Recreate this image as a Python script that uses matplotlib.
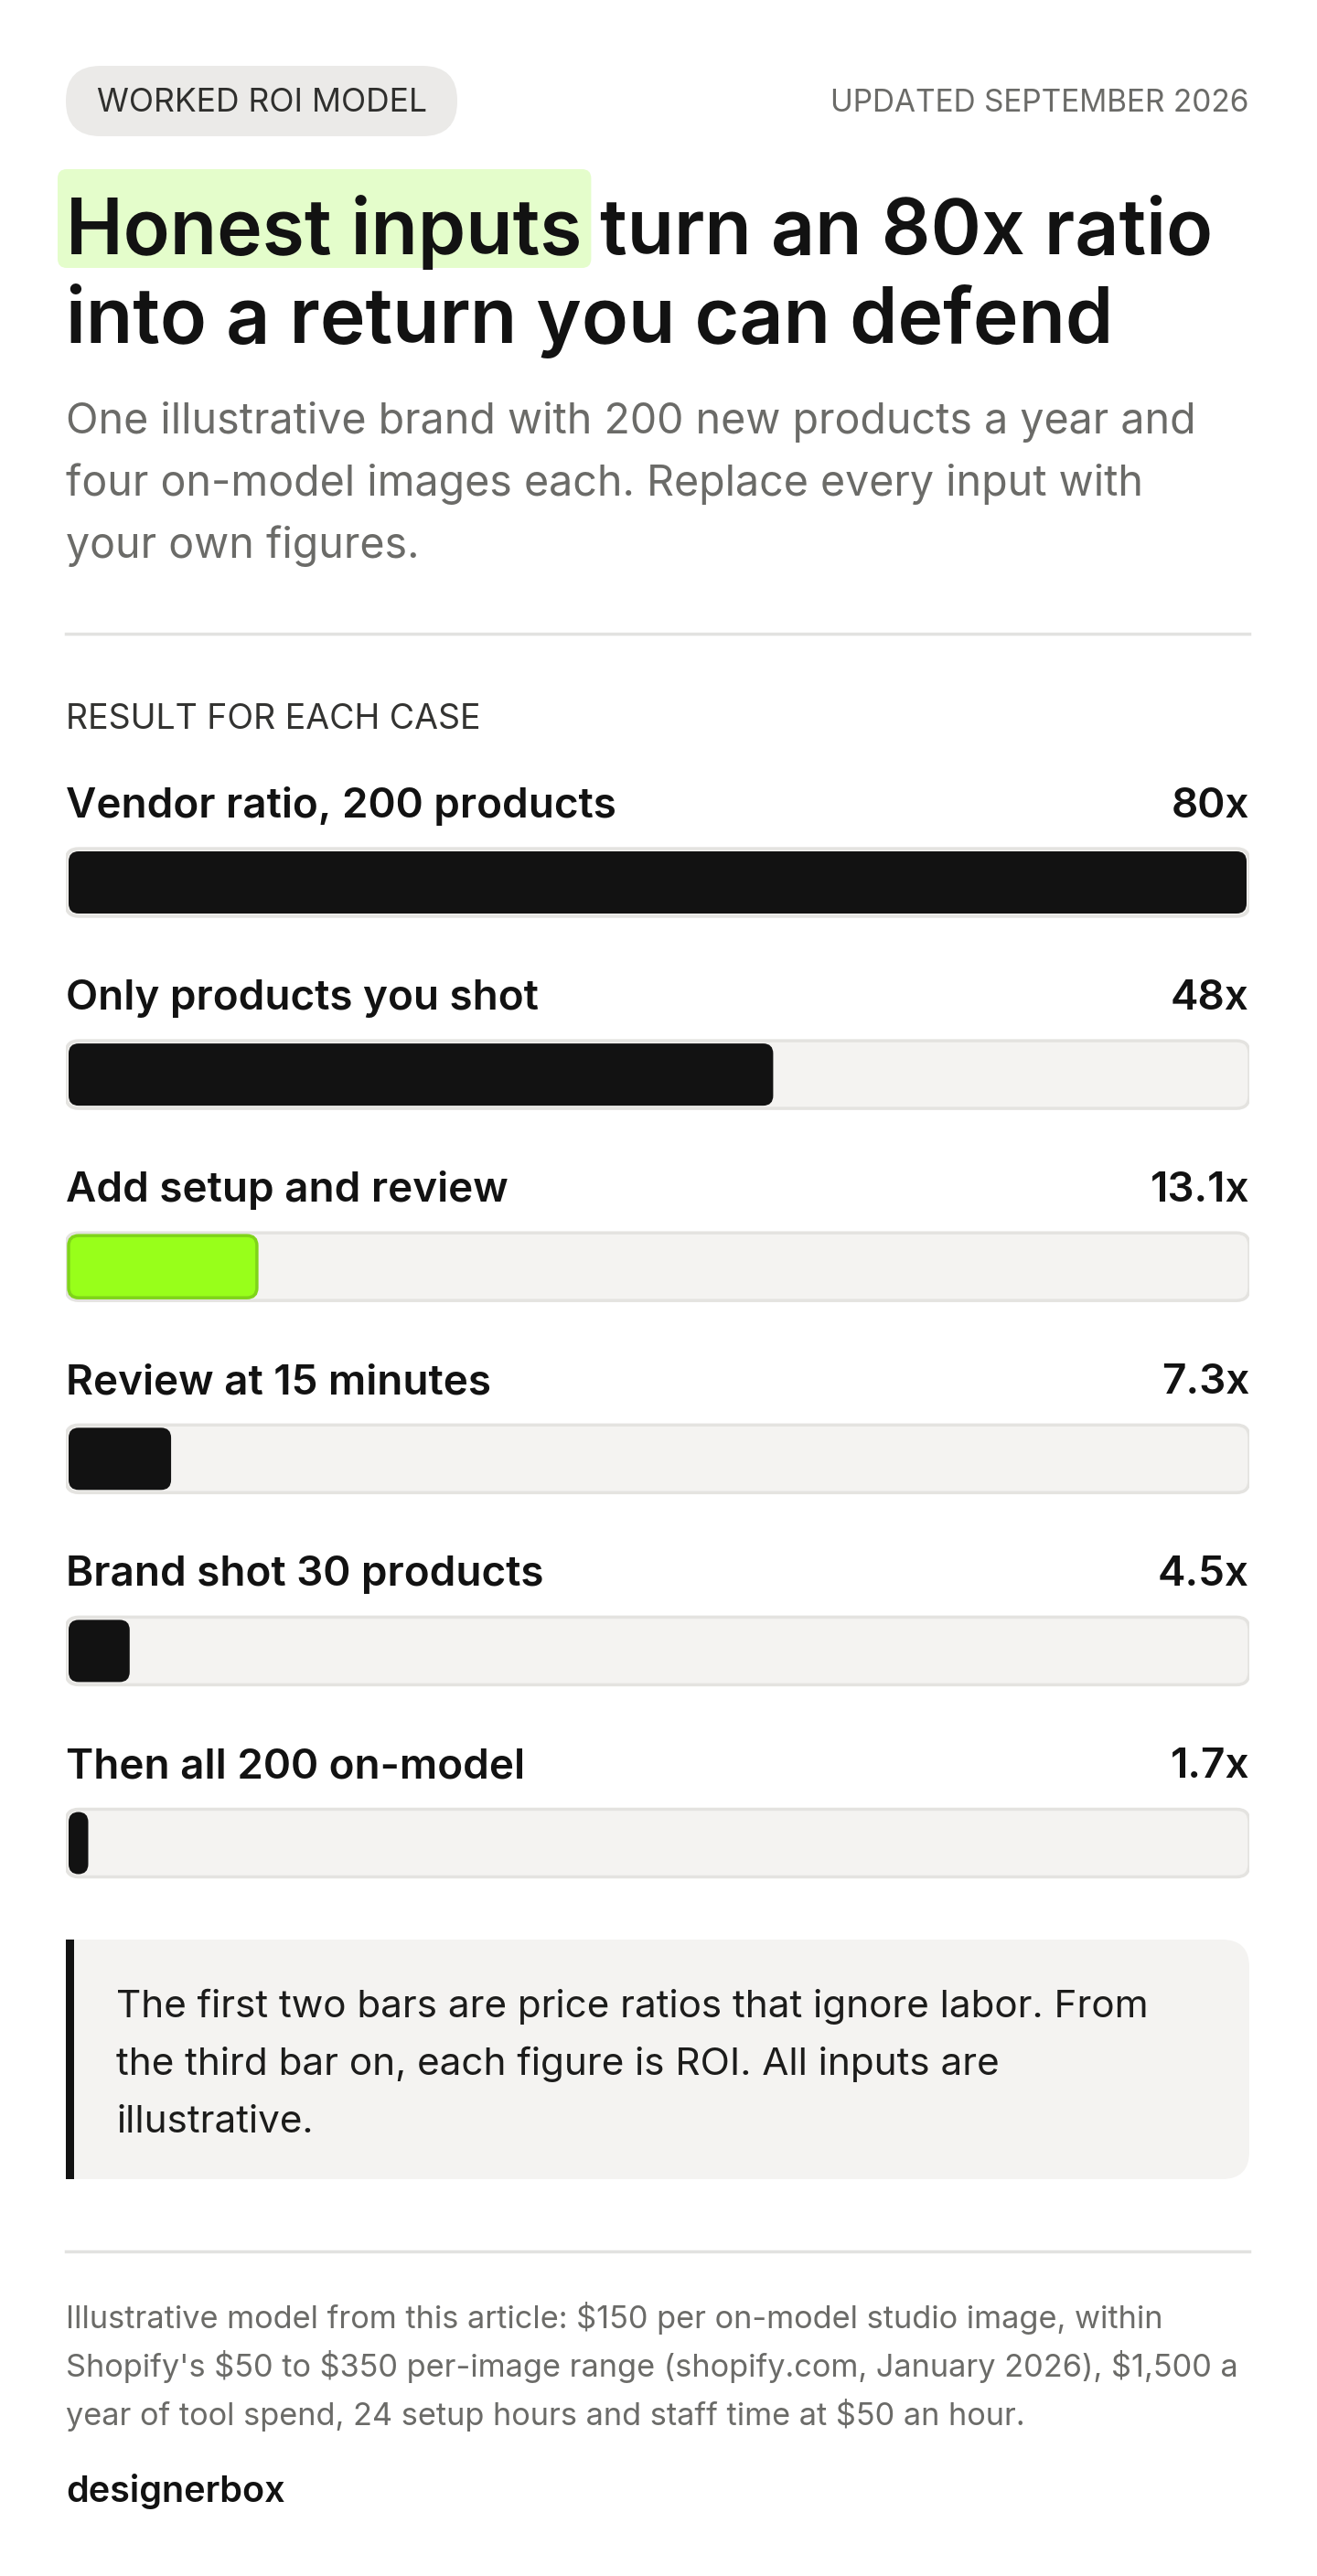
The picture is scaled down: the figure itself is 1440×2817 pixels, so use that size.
import matplotlib
matplotlib.use("Agg")
import matplotlib.pyplot as plt
from matplotlib.patches import FancyBboxPatch, Rectangle

# ---- data ----
cases = [
    "Vendor ratio, 200 products",
    "Only products you shot",
    "Add setup and review",
    "Review at 15 minutes",
    "Brand shot 30 products",
    "Then all 200 on-model",
]
values = [80, 48, 13.1, 7.3, 4.5, 1.7]
value_labels = ["80x", "48x", "13.1x", "7.3x", "4.5x", "1.7x"]
highlight_case = "Add setup and review"

tag_text = "WORKED ROI MODEL"
date_text = "UPDATED SEPTEMBER 2026"
title_hi = "Honest inputs"
title_rest = "turn an 80x ratio"
title_line2 = "into a return you can defend"
subtitle = [
    "One illustrative brand with 200 new products a year and",
    "four on-model images each. Replace every input with",
    "your own figures.",
]
section_label = "RESULT FOR EACH CASE"
note_lines = [
    "The first two bars are price ratios that ignore labor. From",
    "the third bar on, each figure is ROI. All inputs are",
    "illustrative.",
]
foot_lines = [
    "Illustrative model from this article: $150 per on-model studio image, within",
    "Shopify's $50 to $350 per-image range (shopify.com, January 2026), $1,500 a",
    "year of tool spend, 24 setup hours and staff time at $50 an hour.",
]
brand = "designerbox"

# ---- style ----
W, H = 1440, 2817
L, R = 72, 1366
INK = "#121212"
GREY = "#6b6b68"
TRACK = "#f4f3f1"
TRACK_EDGE = "#e4e3e0"
GREEN = "#98ff1a"
GREEN_EDGE = "#7fd419"
FONT = ["Inter", "DejaVu Sans"]

plt.rcParams["font.family"] = FONT

fig = plt.figure(figsize=(W / 100, H / 100), dpi=100)
fig.patch.set_facecolor("white")
ax = fig.add_axes([0, 0, 1, 1])
ax.set_xlim(0, W)
ax.set_ylim(H, 0)
ax.axis("off")


def rbox(x0, y0, x1, y1, r, fc, ec="none", lw=0, z=1):
    p = FancyBboxPatch((x0, y0), x1 - x0, y1 - y0,
                       boxstyle=f"round,pad=0,rounding_size={r}",
                       fc=fc, ec=ec, lw=lw, zorder=z)
    ax.add_patch(p)
    return p


def txt(x, y, s, size, color=INK, weight="normal", ha="left"):
    return ax.text(x, y, s, fontsize=size, color=color, fontweight=weight,
                   ha=ha, va="baseline", zorder=5)


# header
rbox(72, 72, 500, 149, 38, "#ebeae8")
txt(106, 122, tag_text, 25.5, "#2f2f2d")
txt(R, 122, date_text, 24, GREY, ha="right")

# title
fig.canvas.draw()
rend = fig.canvas.get_renderer()
TS = 60.5
t1 = txt(72, 278, title_hi, TS, INK, "semibold")
bb = t1.get_window_extent(rend).transformed(ax.transData.inverted())
x_end = max(bb.x0, bb.x1)
rbox(63, 185, x_end + 10, 293, 10, "#e4fdcb", z=2)
txt(x_end + 20, 278, title_rest, TS, INK, "semibold")
txt(72, 375, title_line2, TS, INK, "semibold")

for i, line in enumerate(subtitle):
    txt(72, 474 + i * 68, line, 33.5, GREY)

ax.plot([L, R], [693, 693], color="#e2e2e0", lw=2.5, zorder=3)
txt(72, 797, section_label, 27, "#333331")

# ---- bars: x in value units, y in pixel rows ----
bax = fig.add_axes([L / W, 0, (R - L) / W, 1])
bax.set_xlim(0, 80)
bax.set_ylim(H, 0)
bax.axis("off")
px_x = 80 / (R - L)      # data-x per pixel
aspect = 1 / px_x        # y-per-px / x-per-px

row0, step = 894, 210.1
track_h = 74
for i, (name, v, lab) in enumerate(zip(cases, values, value_labels)):
    base = row0 + i * step
    txt(72, base, name, 33, INK, "semibold")
    txt(R, base, lab, 33, INK, "semibold", ha="right")
    top = base + 34
    # track
    bax.add_patch(FancyBboxPatch(
        (0, top), 80, track_h,
        boxstyle=f"round,pad=0,rounding_size={14 * px_x}",
        mutation_aspect=aspect, fc=TRACK, ec=TRACK_EDGE, lw=2.5, zorder=2))
    # fill
    green = name == highlight_case
    inset = 3 * px_x
    bax.add_patch(FancyBboxPatch(
        (inset, top + 3), max(v - 2 * inset, 0.5), track_h - 6,
        boxstyle=f"round,pad=0,rounding_size={11 * px_x}",
        mutation_aspect=aspect,
        fc=GREEN if green else INK,
        ec=GREEN_EDGE if green else INK, lw=2.5 if green else 0, zorder=3))

# ---- note box ----
rbox(72, 2121, R, 2383, 30, TRACK)
ax.add_patch(Rectangle((72, 2121), 60, 262, fc=TRACK, ec="none", zorder=1.5))
ax.add_patch(Rectangle((72, 2121), 9, 262, fc=INK, ec="none", zorder=2))
for i, line in enumerate(note_lines):
    txt(127, 2206 + i * 63, line, 30.4, "#1c1c1b")

ax.plot([L, R], [2462, 2462], color="#e2e2e0", lw=2.5, zorder=3)
for i, line in enumerate(foot_lines):
    txt(72, 2546 + i * 53, line, 24.7, GREY)
txt(72, 2736, brand, 28.5, INK, "semibold")

fig.savefig("out.png", dpi=100, facecolor="white")
